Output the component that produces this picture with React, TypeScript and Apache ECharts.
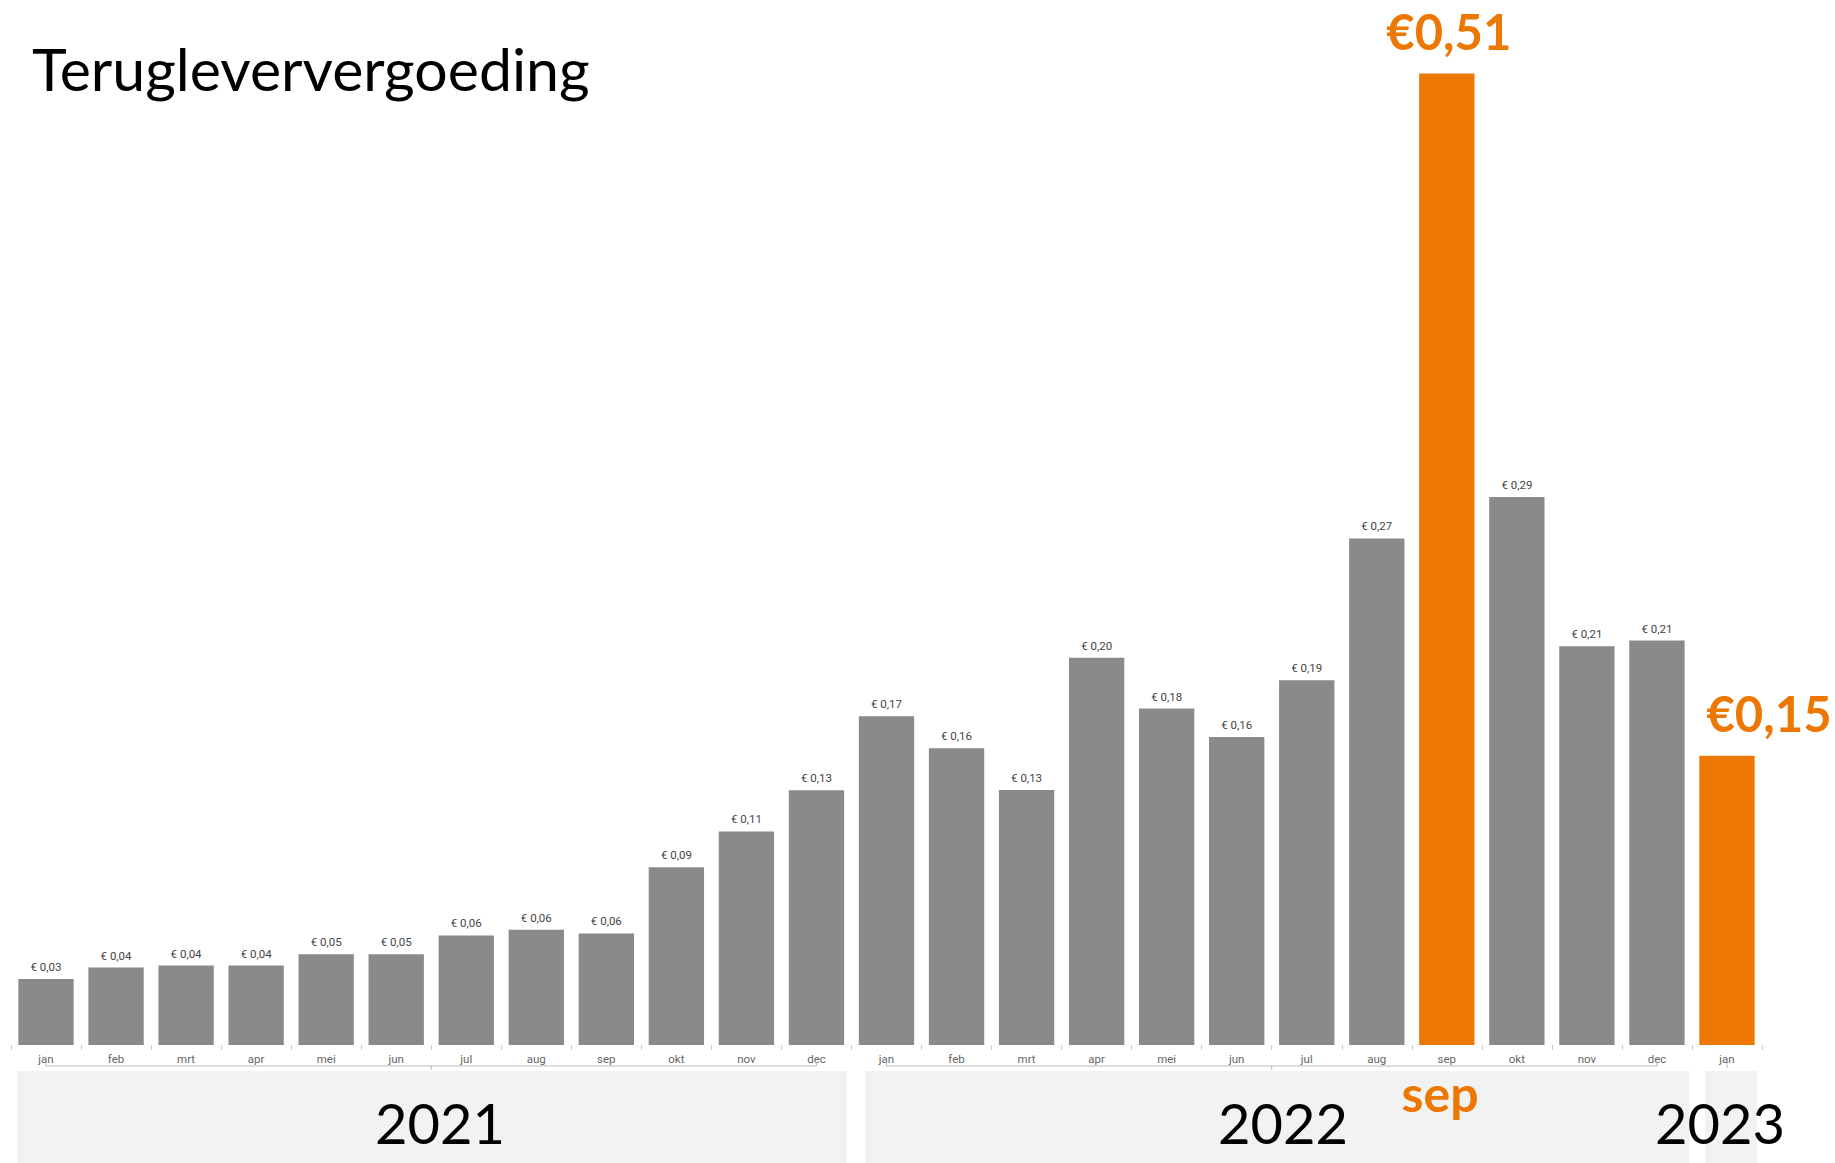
import React, { useEffect, useRef } from "react";
import * as echarts from "echarts";

const categories = [
  "jan", "feb", "mrt", "apr", "mei", "jun", "jul", "aug", "sep", "okt", "nov", "dec",
  "jan", "feb", "mrt", "apr", "mei", "jun", "jul", "aug", "sep", "okt", "nov", "dec",
  "jan",
];
const values = [
  0.0349, 0.041, 0.042, 0.042, 0.048, 0.048, 0.058, 0.061, 0.059, 0.094, 0.113, 0.1348,
  0.174, 0.157, 0.1349, 0.2049, 0.178, 0.163, 0.193, 0.268, 0.514, 0.29, 0.211, 0.214,
  0.153,
];
const highlighted = [20, 24];
const years = ["2021", "2022", "2023"];
const yearStart = [0, 12, 24];
const yearEnd = [11, 23, 24];
const title = "Terugleververgoeding";
const calloutMonth = "sep";

const GRAY = "#8a8a8a";
const ORANGE = "#ED7703";

const fmtSmall = (v: number) => "€ " + v.toFixed(2).replace(".", ",");
const fmtBig = (v: number) => "€" + v.toFixed(2).replace(".", ",");

export default function App() {
  const ref = useRef<HTMLDivElement>(null);
  useEffect(() => {
    const chart = echarts.init(ref.current!, null, { renderer: "svg" });
    const data = values.map((v, i) => {
      if (highlighted.includes(i)) {
        return {
          value: v,
          itemStyle: { color: ORANGE },
          label: {
            show: true,
            position: "top",
            distance: 18,
            offset: i === 24 ? [42, 0] : [2, 0],
            formatter: fmtBig(v),
            fontFamily: "Lato",
            fontWeight: "bold",
            fontSize: 49,
            color: ORANGE,
          },
        };
      }
      return v;
    });

    const staticGraphic: any[] = [
      { type: "rect", shape: { x: 17, y: 1071, width: 830, height: 92 }, style: { fill: "#f2f2f2" }, z: 1 },
      { type: "rect", shape: { x: 865, y: 1071, width: 824, height: 92 }, style: { fill: "#f2f2f2" }, z: 1 },
      { type: "rect", shape: { x: 1705, y: 1071, width: 52, height: 92 }, style: { fill: "#f2f2f2" }, z: 1 },
      {
        type: "text",
        x: 32,
        y: 68,
        style: { text: title, font: "59px Lato", fill: "#000", textAlign: "left", textVerticalAlign: "middle" },
        z: 10,
      },
      {
        type: "text",
        x: 1440,
        y: 1093,
        style: { text: calloutMonth, font: "bold 50px Lato", fill: ORANGE, textAlign: "center", textVerticalAlign: "middle" },
        z: 10,
      },
    ];
    const yearX = [440, 1283, 1720];
    years.forEach((y, i) => {
      staticGraphic.push({
        type: "text",
        x: yearX[i],
        y: 1122,
        style: { text: y, font: "56px Lato", fill: "#000", textAlign: "center", textVerticalAlign: "middle" },
        z: 10,
      });
    });

    const option: any = {
      animation: false,
      backgroundColor: "#fff",
      grid: { left: 11, right: 73, top: 5.5, bottom: 118, containLabel: false },
      xAxis: {
        type: "category",
        data: categories,
        axisLine: { show: false },
        axisTick: { show: true, length: 5, lineStyle: { color: "#cccccc" } },
        axisLabel: { color: "#666", fontFamily: "Roboto", fontSize: 11.5, margin: 8, interval: 0 },
      },
      yAxis: {
        type: "value",
        min: 0,
        max: 0.55,
        show: false,
        splitLine: { show: false },
      },
      series: [
        {
          type: "bar",
          data,
          barCategoryGap: "21%",
          itemStyle: { color: GRAY },
          label: {
            show: true,
            position: "top",
            distance: 6,
            formatter: (p: any) => fmtSmall(p.value),
            fontFamily: "Roboto",
            fontSize: 11.5,
            color: "#444",
          },
        },
      ],
      graphic: staticGraphic,
    };
    chart.setOption(option);

    const bracket: any[] = [];
    const lc = { stroke: "#bbbbbb", lineWidth: 1 };
    const by = 1066;
    years.forEach((_, i) => {
      const x0 = chart.convertToPixel({ xAxisIndex: 0 }, yearStart[i]);
      const x1 = chart.convertToPixel({ xAxisIndex: 0 }, yearEnd[i]);
      if (yearEnd[i] > yearStart[i]) {
        const xm = (chart.convertToPixel({ xAxisIndex: 0 }, yearStart[i] + 5) + chart.convertToPixel({ xAxisIndex: 0 }, yearStart[i] + 6)) / 2;
        bracket.push({ type: "line", shape: { x1: x0, y1: by, x2: x1, y2: by }, style: lc, z: 5 });
        bracket.push({ type: "line", shape: { x1: x0, y1: by - 4, x2: x0, y2: by }, style: lc, z: 5 });
        bracket.push({ type: "line", shape: { x1: x1, y1: by - 4, x2: x1, y2: by }, style: lc, z: 5 });
        bracket.push({ type: "line", shape: { x1: xm, y1: by, x2: xm, y2: by + 4 }, style: lc, z: 5 });
      } else {
        bracket.push({ type: "line", shape: { x1: x0, y1: by - 3, x2: x0, y2: by + 2 }, style: lc, z: 5 });
      }
    });
    chart.setOption({ graphic: [...staticGraphic, ...bracket] }, { replaceMerge: ["graphic"] });

    return () => chart.dispose();
  }, []);
  return <div ref={ref} style={{ position: "fixed", left: 0, top: 0, width: 1835, height: 1163 }} />;
}
